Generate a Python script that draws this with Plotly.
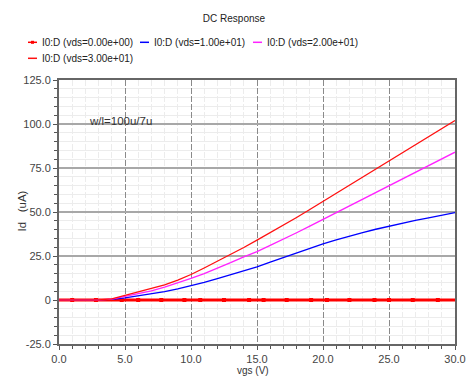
import plotly.graph_objects as go

# ---- data ----
vgs = list(range(0, 31))
id_vds30 = [0, 0, 0, 0.05, 0.6, 2.6, 4.3, 6.3, 8.6, 11.3, 14.5, 18.2, 22.0, 25.8, 29.8, 34.0,
            38.2, 42.5, 46.9, 51.4, 56.0, 60.5, 65.0, 69.6, 74.1, 78.7, 83.3, 88.0, 92.6, 97.3, 102.0]
id_vds20 = [0, 0, 0, 0.05, 0.5, 2.0, 3.5, 5.2, 7.3, 9.7, 12.3, 15.0, 18.0, 21.2, 24.5, 27.5,
            31.0, 34.5, 38.2, 42.0, 45.8, 49.6, 53.4, 57.2, 61.1, 65.0, 68.8, 72.6, 76.4, 80.2, 84.0]
id_vds10 = [0, 0, 0, 0.05, 0.4, 1.2, 2.3, 3.5, 4.8, 6.3, 8.0, 10.0, 12.2, 14.4, 16.6, 18.8,
            21.5, 24.2, 26.9, 29.4, 31.9, 34.1, 36.3, 38.3, 40.2, 42.0, 43.7, 45.2, 46.6, 48.0, 49.6]
id_vds0 = [0.0] * len(vgs)
marker_vgs = [1.0, 2.8, 4.75, 6.0, 7.75, 9.5, 10.7, 12.5, 14.4, 15.5, 17.25, 19.1, 20.3,
              22.0, 23.9, 25.0, 26.8, 28.7]
marker_id = [0.0] * len(marker_vgs)

legend_labels = ["I0:D (vds=0.00e+00)", "I0:D (vds=1.00e+01)",
                 "I0:D (vds=2.00e+01)", "I0:D (vds=3.00e+01)"]
colors = ["#ff0000", "#0000ff", "#ff22ff", "#ff1010"]

x_ticks = [0, 5, 10, 15, 20, 25, 30]
x_ticktext = ["0.0", "5.0", "10.0", "15.0", "20.0", "25.0", "30.0"]
y_ticks = [-25, 0, 25, 50, 75, 100, 125]
y_ticktext = ["-25.0", "0", "25.0", "50.0", "75.0", "100.0", "125.0"]

W, H = 467, 376
L, R, T, B = 59, 12, 80, 32
PW, PH = W - L - R, H - T - B

def px(xp):
    return (xp - L) / PW

def py(yp):
    return (H - B - yp) / PH

FONT = "Liberation Sans, Arial, sans-serif"

fig = go.Figure()
fig.add_trace(go.Scatter(x=vgs, y=id_vds0, mode="lines",
                         line=dict(color=colors[0], width=3), showlegend=False))
fig.add_trace(go.Scatter(x=marker_vgs, y=marker_id, mode="markers",
                         marker=dict(color=colors[0], size=4, symbol="square"), showlegend=False))
fig.add_trace(go.Scatter(x=vgs, y=id_vds10, mode="lines",
                         line=dict(color=colors[1], width=1.3), showlegend=False))
fig.add_trace(go.Scatter(x=vgs, y=id_vds20, mode="lines",
                         line=dict(color=colors[2], width=1.3), showlegend=False))
fig.add_trace(go.Scatter(x=vgs, y=id_vds30, mode="lines",
                         line=dict(color=colors[3], width=1.3), showlegend=False))

annotations = []
shapes = []
# manual legend
leg = [(28, 37, 40, 42.3), (140, 149, 152, 42.3), (253, 262, 265, 42.3), (28, 37, 40, 58.3)]
for i, (x0, x1, xt, yy) in enumerate(leg):
    shapes.append(dict(type="line", xref="paper", yref="paper",
                       x0=px(x0), x1=px(x1), y0=py(yy), y1=py(yy),
                       line=dict(color=colors[i], width=1.5)))
    if i == 0:
        shapes.append(dict(type="rect", xref="paper", yref="paper",
                           x0=px(31), x1=px(34), y0=py(yy + 1.5), y1=py(yy - 1.5),
                           fillcolor=colors[0], line=dict(width=0)))
    annotations.append(dict(text=legend_labels[i], xref="paper", yref="paper",
                            x=px(xt), y=py(yy), xanchor="left", yanchor="middle",
                            showarrow=False, font=dict(family=FONT, size=10, color="#222")))

annotations.append(dict(text="w/l=100u/7u", x=2.15, y=101.5, xanchor="left", yanchor="middle",
                        showarrow=False, font=dict(family=FONT, size=11.5, color="#333")))
annotations.append(dict(text="vgs (V)", xref="paper", yref="paper", x=px(252.5), y=py(370.5),
                        xanchor="center", yanchor="middle", showarrow=False,
                        font=dict(family=FONT, size=10, color="#333")))
annotations.append(dict(text="Id\u00a0\u00a0\u00a0(uA)", xref="paper", yref="paper", x=px(21), y=py(211.5),
                        xanchor="center", yanchor="middle", showarrow=False, textangle=-90,
                        font=dict(family=FONT, size=11.5, color="#333")))

fig.update_layout(
    width=W, height=H,
    margin=dict(l=L, r=R, t=T, b=B, pad=0, autoexpand=False),
    paper_bgcolor="white", plot_bgcolor="white",
    title=dict(text="DC Response", x=234 / W, xanchor="center", y=1 - 18.3 / H, yanchor="middle",
               font=dict(family=FONT, size=10, color="#222")),
    annotations=annotations, shapes=shapes,
    showlegend=False,
    font=dict(family=FONT, size=11, color="#444"),
)
fig.update_xaxes(range=[0, 30], tickvals=x_ticks, ticktext=x_ticktext, automargin=False,
                 showline=True, linecolor="#666", linewidth=2, mirror=True,
                 ticks="outside", ticklen=4, tickcolor="#555", tickwidth=1,
                 showgrid=True, gridcolor="#8a8a8a", gridwidth=1, griddash="6px,2px",
                 zeroline=False,
                 minor=dict(dtick=1, tick0=0, ticks="outside", ticklen=3, tickcolor="#555",
                            showgrid=True, gridcolor="#ececec", gridwidth=1),
                 tickfont=dict(family=FONT, size=11, color="#444"))
fig.update_yaxes(range=[-25, 125], tickvals=y_ticks, ticktext=y_ticktext, automargin=False,
                 showline=True, linecolor="#666", linewidth=2, mirror=True,
                 ticks="outside", ticklen=4, tickcolor="#555", tickwidth=1,
                 showgrid=True, gridcolor="#a8a8a8", gridwidth=1.6,
                 zeroline=False,
                 minor=dict(dtick=5, tick0=0, ticks="outside", ticklen=3, tickcolor="#555",
                            showgrid=True, gridcolor="#ececec", gridwidth=1),
                 tickfont=dict(family=FONT, size=11, color="#444"))

fig.write_html("out.html")
